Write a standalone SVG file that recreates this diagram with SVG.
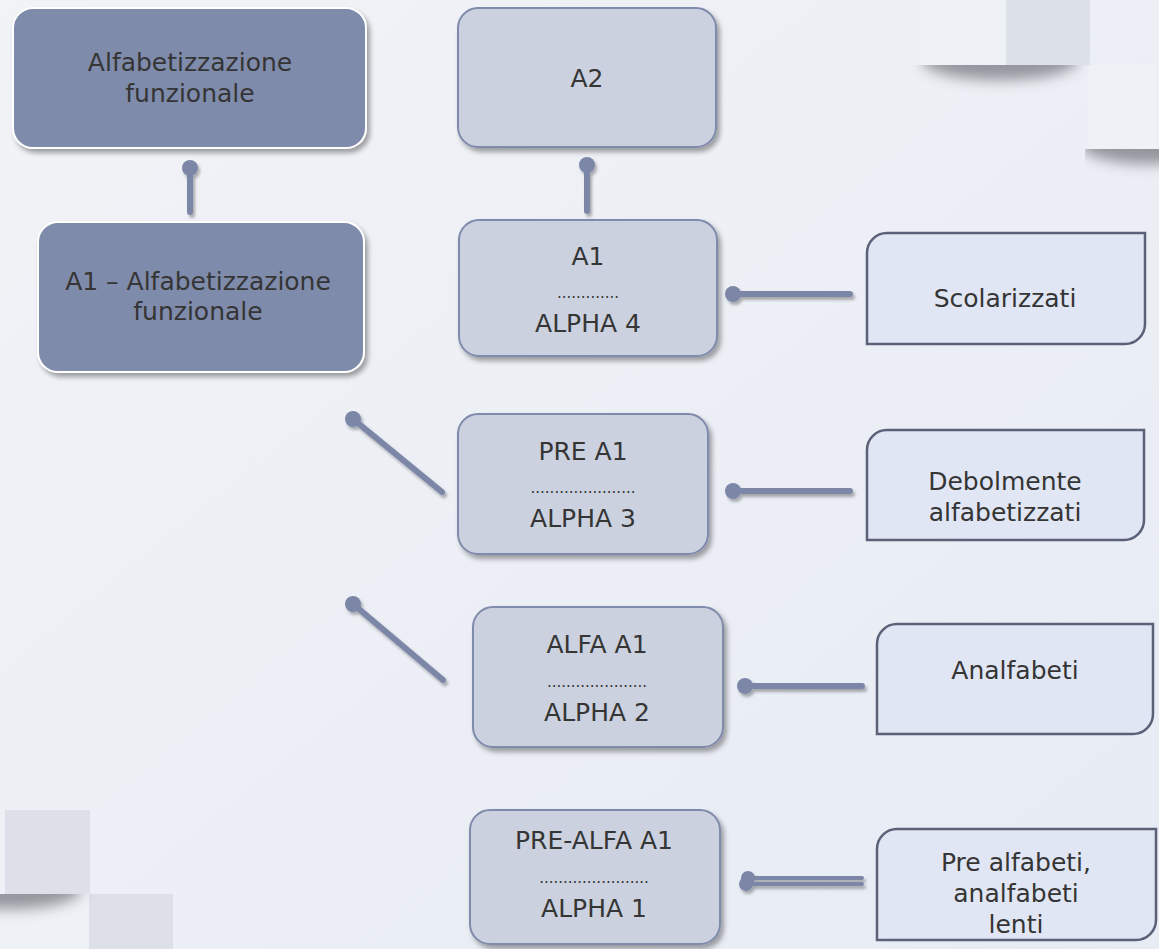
<svg xmlns="http://www.w3.org/2000/svg" width="1159" height="949" viewBox="0 0 1159 949">
<defs>
<linearGradient id="bg" x1="0" y1="0" x2="1" y2="1">
<stop offset="0" stop-color="#f1f3f6"/>
<stop offset="1" stop-color="#e7ebf4"/>
</linearGradient>
<filter id="sh" x="-10%" y="-10%" width="125%" height="130%">
<feDropShadow dx="3" dy="4" stdDeviation="2.5" flood-color="#000" flood-opacity="0.35"/>
</filter>
<filter id="csh" x="-20%" y="-50%" width="140%" height="200%">
<feDropShadow dx="2" dy="3" stdDeviation="1.5" flood-color="#000" flood-opacity="0.3"/>
</filter>
<filter id="blur" x="-30%" y="-100%" width="160%" height="300%">
<feGaussianBlur stdDeviation="7"/>
</filter>
<clipPath id="clipTR1"><rect x="900" y="65" width="200" height="40"/></clipPath>
<clipPath id="clipTR2"><rect x="1085" y="149" width="80" height="40"/></clipPath>
<clipPath id="clipBL"><rect x="0" y="894" width="100" height="40"/></clipPath>
<style>
.dark{fill:#7f8bab;stroke:#ffffff;stroke-width:2}
.light{fill:#cbd1df;stroke:#7f8bab;stroke-width:2}
.side{fill:#e1e6f4;stroke:#5b6178;stroke-width:2.5}
.t{font-family:"DejaVu Sans","Liberation Sans",sans-serif;font-size:25px;fill:#353535;text-anchor:middle}
.d{font-family:"DejaVu Sans","Liberation Sans",sans-serif;font-size:15px;fill:#353535;text-anchor:middle}
.ln{stroke:#7b87a8;stroke-width:6;stroke-linecap:round;fill:none}
.ln2{stroke:#7b87a8;stroke-width:4;stroke-linecap:round;fill:none}
.dot{fill:#7b87a8}
</style>
</defs>
<rect x="0" y="0" width="1159" height="949" fill="url(#bg)"/>
<g id="decor-top-right">
<g clip-path="url(#clipTR1)"><ellipse cx="1000" cy="60" rx="78" ry="20" fill="#3a3d44" opacity="0.5" filter="url(#blur)"/></g>
<g clip-path="url(#clipTR2)"><ellipse cx="1150" cy="144" rx="70" ry="20" fill="#3a3d44" opacity="0.5" filter="url(#blur)"/></g>
<rect x="921" y="0" width="85" height="65" fill="#eef1f6"/>
<rect x="1006" y="0" width="84" height="65" fill="#dde1ea"/>
<rect x="1089" y="65" width="70" height="84" fill="#eef1f6"/>
</g>
<g id="decor-bottom-left">
<rect x="0" y="810" width="5" height="84" fill="#eef1f6"/>
<rect x="5" y="810" width="85" height="84" fill="#dde0e8"/>
<rect x="0" y="894" width="89" height="55" fill="#eef1f6"/>
<rect x="89" y="894" width="84" height="55" fill="#dde0e8"/>
<g clip-path="url(#clipBL)"><ellipse cx="10" cy="889" rx="72" ry="20" fill="#3a3d44" opacity="0.5" filter="url(#blur)"/></g>
</g>
<g id="connectors" filter="url(#csh)">
<circle class="dot" cx="190" cy="168" r="8"/><line class="ln" x1="190" y1="168" x2="190" y2="212"/>
<circle class="dot" cx="587" cy="165" r="8"/><line class="ln" x1="587" y1="165" x2="587" y2="211"/>
<circle class="dot" cx="733" cy="294" r="8"/><line class="ln" x1="733" y1="294" x2="850" y2="294"/>
<circle class="dot" cx="353" cy="419" r="8"/><line class="ln" x1="353" y1="419" x2="442" y2="492"/>
<circle class="dot" cx="733" cy="491" r="8"/><line class="ln" x1="733" y1="491" x2="850" y2="491"/>
<circle class="dot" cx="353" cy="604" r="8"/><line class="ln" x1="353" y1="604" x2="443" y2="680"/>
<circle class="dot" cx="745" cy="686" r="8"/><line class="ln" x1="745" y1="686" x2="862" y2="686"/>
<circle class="dot" cx="746" cy="884" r="7"/><line class="ln2" x1="746" y1="884" x2="862" y2="884"/>
<circle class="dot" cx="748" cy="878" r="7"/><line class="ln2" x1="748" y1="878" x2="862" y2="878"/>
</g>
<g id="n-alfabetizzazione">
<rect class="dark" x="13" y="8" width="353" height="140" rx="20" filter="url(#sh)"/>
<text class="t" x="190" y="71">Alfabetizzazione</text>
<text class="t" x="190" y="102">funzionale</text>
</g>
<g id="n-a2">
<rect class="light" x="458" y="8" width="258" height="139" rx="20" filter="url(#sh)"/>
<text class="t" x="587" y="87">A2</text>
</g>
<g id="n-a1-alf">
<rect class="dark" x="38" y="222" width="326" height="150" rx="20" filter="url(#sh)"/>
<text class="t" x="198" y="290">A1 – Alfabetizzazione</text>
<text class="t" x="198" y="320">funzionale</text>
</g>
<g id="n-a1">
<rect class="light" x="459" y="220" width="258" height="136" rx="20" filter="url(#sh)"/>
<text class="t" x="588" y="265">A1</text>
<text class="d" x="588" y="298">.............</text>
<text class="t" x="588" y="332">ALPHA 4</text>
</g>
<g id="n-pre-a1">
<rect class="light" x="458" y="414" width="250" height="140" rx="20" filter="url(#sh)"/>
<text class="t" x="583" y="460">PRE A1</text>
<text class="d" x="583" y="493">......................</text>
<text class="t" x="583" y="527">ALPHA 3</text>
</g>
<g id="n-alfa-a1">
<rect class="light" x="473" y="607" width="250" height="140" rx="20" filter="url(#sh)"/>
<text class="t" x="597" y="653">ALFA A1</text>
<text class="d" x="597" y="687">.....................</text>
<text class="t" x="597" y="721">ALPHA 2</text>
</g>
<g id="n-pre-alfa-a1">
<rect class="light" x="470" y="810" width="250" height="134" rx="20" filter="url(#sh)"/>
<text class="t" x="594" y="849">PRE-ALFA A1</text>
<text class="d" x="594" y="883">.......................</text>
<text class="t" x="594" y="917">ALPHA 1</text>
</g>
<g id="s-scolarizzati">
<path class="side" d="M887 233 H1145 V324 A20 20 0 0 1 1125 344 H867 V253 A20 20 0 0 1 887 233 Z"/>
<text class="t" x="1005" y="307">Scolarizzati</text>
</g>
<g id="s-debolmente">
<path class="side" d="M887 430 H1144 V520 A20 20 0 0 1 1124 540 H867 V450 A20 20 0 0 1 887 430 Z"/>
<text class="t" x="1005" y="490">Debolmente</text>
<text class="t" x="1005" y="521">alfabetizzati</text>
</g>
<g id="s-analfabeti">
<path class="side" d="M897 624 H1153 V714 A20 20 0 0 1 1133 734 H877 V644 A20 20 0 0 1 897 624 Z"/>
<text class="t" x="1015" y="679">Analfabeti</text>
</g>
<g id="s-pre-alfabeti">
<path class="side" d="M897 829 H1156 V920 A20 20 0 0 1 1136 940 H877 V849 A20 20 0 0 1 897 829 Z"/>
<text class="t" x="1016" y="871">Pre alfabeti,</text>
<text class="t" x="1016" y="902">analfabeti</text>
<text class="t" x="1016" y="933">lenti</text>
</g>
</svg>
